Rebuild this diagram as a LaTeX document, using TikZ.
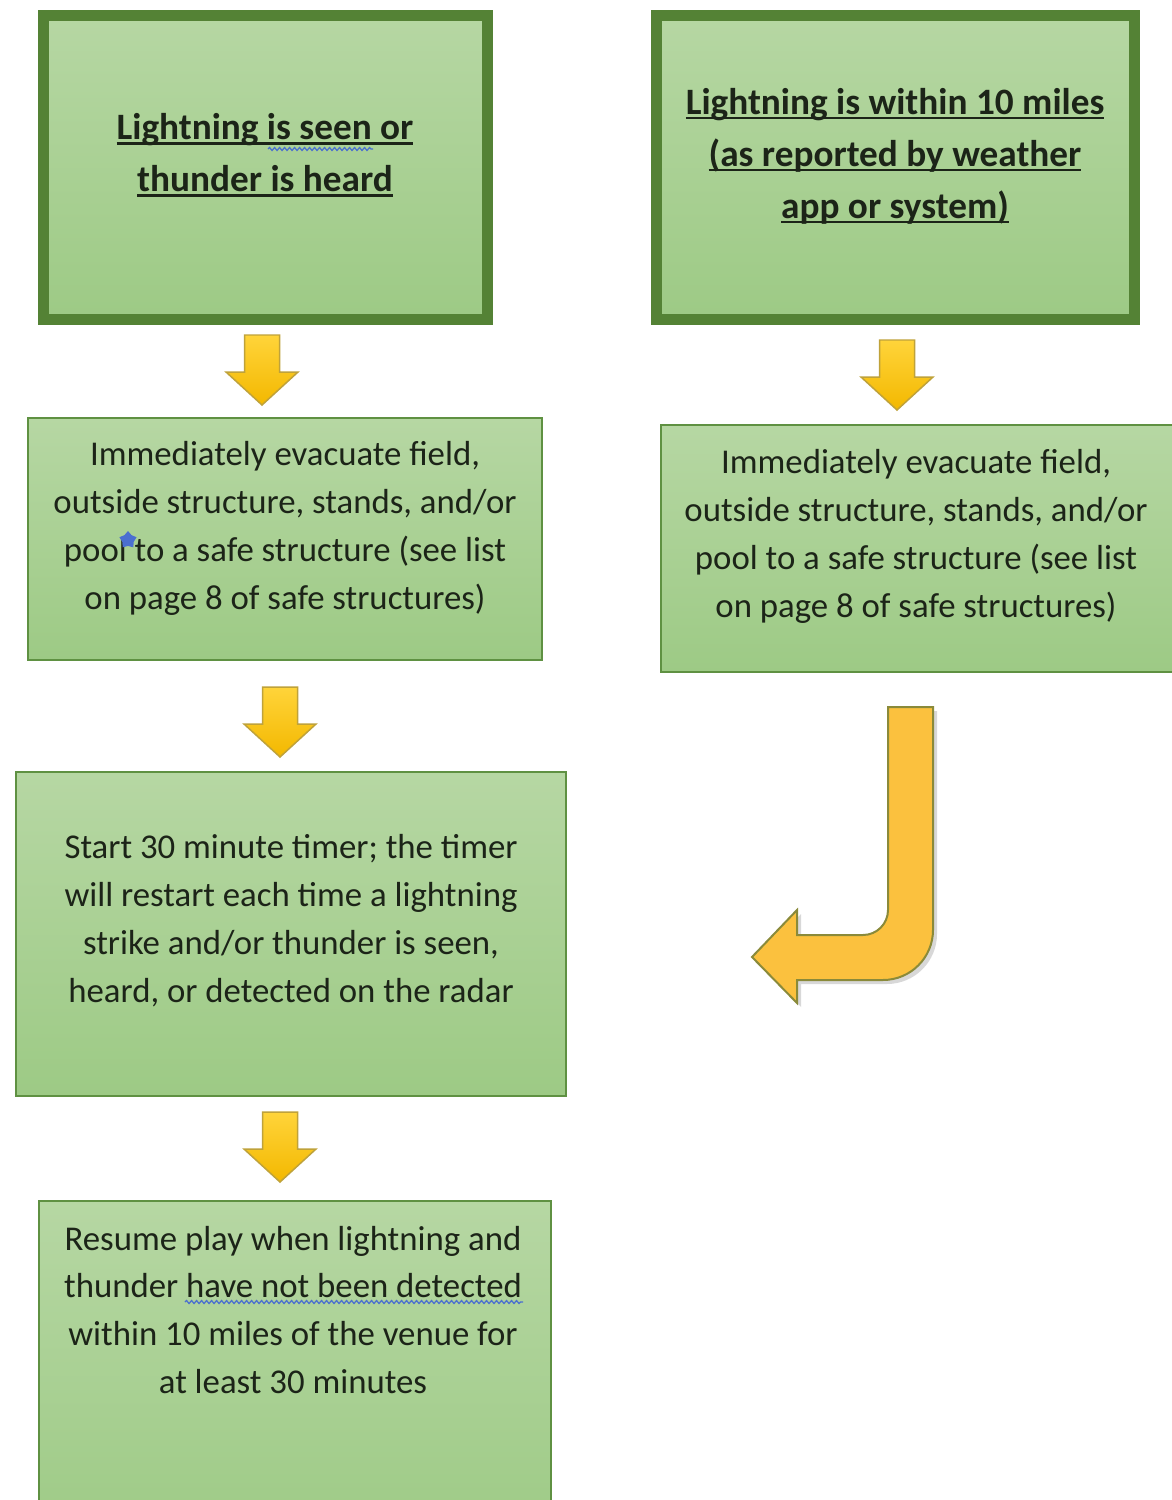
\documentclass[tikz,border=0pt]{standalone}
\usepackage{fontspec}
\setmainfont{Carlito}
\usetikzlibrary{fit,shadows,decorations.pathmorphing,shapes.geometric}

\definecolor{boxtop}{HTML}{B6D7A3}
\definecolor{boxbot}{HTML}{9DCA85}
\definecolor{darkrim}{HTML}{548235}
\definecolor{thinrim}{HTML}{5F9142}
\definecolor{inktext}{HTML}{1C2418}
\definecolor{arrtop}{HTML}{FFD43A}
\definecolor{arrbot}{HTML}{F3B800}
\definecolor{arrrim}{HTML}{BFA23A}
\definecolor{bendfill}{HTML}{FBC13E}
\definecolor{bendrim}{HTML}{8A8A3A}
\definecolor{spellblue}{HTML}{4A6FD0}

\newcommand{\ulbar}[1]{\setbox0\hbox{#1}\rlap{\rule[-3pt]{\wd0}{1.5pt}}\box0}

\begin{document}
\begin{tikzpicture}[x=0.02cm,y=-0.02cm,
   boxfill/.style={top color=boxtop,bottom color=boxbot,inner sep=0pt},
   headbox/.style={boxfill,draw=darkrim,line width=0.22cm},
   stepbox/.style={boxfill,draw=thinrim,line width=0.05cm},
   boxtext/.style={align=center,text=inktext,font=\fontsize{19.8}{27.3}\selectfont},
   headtext/.style={align=center,text=inktext,font=\bfseries\fontsize{21.2}{29.6}\selectfont},
   blockdown/.pic={\draw[top color=arrtop,bottom color=arrbot,draw=arrrim,line width=0.03cm]
      (-17.5,0) -- (17.5,0) -- (17.5,37) -- (36,37) -- (0,70) -- (-36,37) -- (-17.5,37) -- cycle;},
   spell/.style={draw=spellblue,line width=0.025cm,decorate,
      decoration={snake,amplitude=0.03cm,segment length=0.1cm}}]
\useasboundingbox[fill=white] (0,0) rectangle (1171,1500);

\node[headbox,fit={(43.5,15.5) (487.5,319.5)}] (A) {};
\node[headbox,fit={(656.5,15.5) (1134.5,319.5)}] (B) {};
\node[stepbox,fit={(28,418) (542,660)}] (C) {};
\node[stepbox,fit={(661,425) (1200,672)}] (D) {};
\node[stepbox,fit={(16,772) (566,1096)}] (E) {};
\node[stepbox,fit={(39,1201) (551,1550)}] (F) {};

\node[headtext] (tA) at (265,155) {\ulbar{Lightning is seen or}\\\ulbar{thunder is heard}};
\node[headtext] (tB) at (895,156) {\ulbar{Lightning is within 10 miles}\\\ulbar{(as reported by weather}\\\ulbar{app or system)}};
\node[boxtext] (tC) at (285,528) {Immediately evacuate field,\\outside structure, stands, and/or\\pool to a safe structure (see list\\on page 8 of safe structures)};
\node[boxtext] (tD) at (916,536) {Immediately evacuate field,\\outside structure, stands, and/or\\pool to a safe structure (see list\\on page 8 of safe structures)};
\node[boxtext] (tE) at (291,921) {Start 30 minute timer; the timer\\will restart each time a lightning\\strike and/or thunder is seen,\\heard, or detected on the radar};
\node[boxtext] (tF) at (293,1310) {Resume play when lightning and\\thunder have not been detected\\within 10 miles of the venue for\\at least 30 minutes};

\node[star,star points=5,fill=spellblue,minimum size=0.36cm,inner sep=0pt] (mk) at (128,540) {};
\draw[spell] (268,149) -- (373,149);
\draw[spell] (185,1302) -- (523,1302);

\pic (a1) at (262,335) {blockdown};
\pic (a2) at (897,340) {blockdown};
\pic (a3) at (280,687) {blockdown};
\pic (a4) at (280,1112) {blockdown};

\draw[fill=bendfill,draw=bendrim,line width=0.04cm,
   drop shadow={shadow xshift=0.08cm,shadow yshift=-0.08cm,opacity=0.3}]
   (888,707) -- (933,707) -- (933,930) .. controls (933,957.6) and (910.6,980) .. (883,980)
   -- (797,980) -- (797,1003) -- (752,957) -- (797,910) -- (797,935) -- (863,935)
   .. controls (876.8,935) and (888,923.8) .. (888,910) -- cycle;
\end{tikzpicture}
\end{document}
